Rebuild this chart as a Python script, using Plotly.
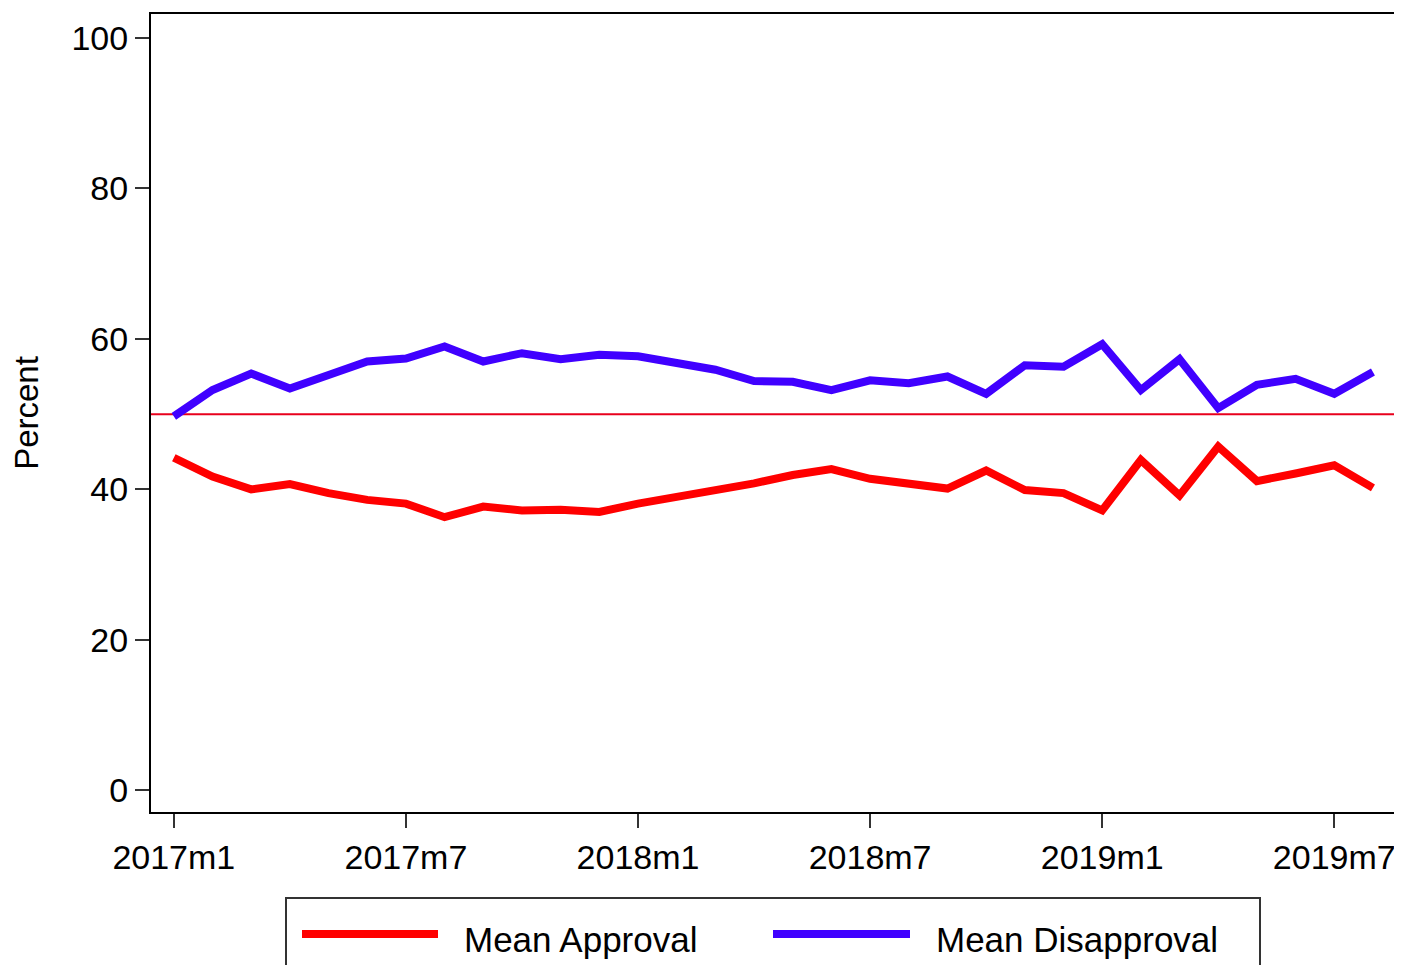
import plotly.graph_objects as go

months = [
    "2017m1", "2017m2", "2017m3", "2017m4", "2017m5", "2017m6", "2017m7", "2017m8",
    "2017m9", "2017m10", "2017m11", "2017m12", "2018m1", "2018m2", "2018m3", "2018m4",
    "2018m5", "2018m6", "2018m7", "2018m8", "2018m9", "2018m10", "2018m11", "2018m12",
    "2019m1", "2019m2", "2019m3", "2019m4", "2019m5", "2019m6", "2019m7", "2019m8",
]

mean_approval = [
    44.2, 41.7, 40.0, 40.7, 39.5, 38.6, 38.1, 36.3, 37.7, 37.2, 37.3, 37.0,
    38.1, 39.0, 39.7, 40.8, 41.9, 42.7, 41.4, 40.8, 40.1, 42.5, 39.9, 39.5,
    37.2, 43.9, 39.2, 45.7, 41.1, 42.1, 43.2, 40.2,
]

mean_disapproval = [
    49.7, 53.2, 55.4, 53.4, 55.2, 57.0, 57.4, 59.0, 57.0, 58.1, 57.3, 57.9,
    57.7, 56.7, 55.9, 54.4, 54.3, 53.2, 54.5, 54.1, 55.0, 52.7, 56.5, 56.3,
    59.3, 53.2, 57.3, 50.8, 53.9, 54.7, 52.7, 55.6,
]

x_tick_labels = ["2017m1", "2017m7", "2018m1", "2018m7", "2019m1", "2019m7"]
y_tick_values = [0, 20, 40, 60, 80, 100]
reference_level = 50

RED = "#FF0000"
BLUE = "#4000FF"
FONT = "Liberation Sans, Arial, Helvetica, sans-serif"

fig = go.Figure()
fig.add_trace(go.Scatter(x=months, y=mean_approval, mode="lines", name="Mean Approval",
                         line=dict(color=RED, width=8), showlegend=False))
fig.add_trace(go.Scatter(x=months, y=mean_disapproval, mode="lines", name="Mean Disapproval",
                         line=dict(color=BLUE, width=8), showlegend=False))

# reference line at 50
fig.add_shape(type="line", xref="paper", x0=0, x1=1, yref="y", y0=reference_level, y1=reference_level,
              line=dict(color="#E8001C", width=2), layer="below")

# custom legend (Stata-style), positions relative to plot area in screen px
W, H = 1244.0, 798.0
L, B = 151.0, 812.0
def px(xp):
    return (xp - L) / W
def py(yp):
    return (B - yp) / H

fig.add_shape(type="rect", xref="paper", yref="paper", x0=px(286), x1=px(1260), y0=py(990), y1=py(898),
              line=dict(color="#333333", width=2), fillcolor="white")
legend_items = [("Mean Approval", RED, 302, 438, 462), ("Mean Disapproval", BLUE, 773, 910, 934)]
for name, col, lx0, lx1, tx in legend_items:
    fig.add_shape(type="line", xref="paper", yref="paper", x0=px(lx0), x1=px(lx1), y0=py(934), y1=py(934),
                  line=dict(color=col, width=8))
    fig.add_annotation(xref="paper", yref="paper", x=px(tx), y=py(939), text=name, showarrow=False,
                       xanchor="left", yanchor="middle", font=dict(family=FONT, size=35, color="black"))

# page body has an 8px margin, so the figure is offset by (8, 8)
fig.update_layout(
    width=1394, height=957,
    margin=dict(l=143, r=7, t=6, b=153, autoexpand=False),
    plot_bgcolor="white", paper_bgcolor="white",
    font=dict(family=FONT, size=33, color="black"),
    showlegend=False,
)
fig.update_xaxes(
    type="category", range=[-0.59, 31.57],
    tickmode="array", tickvals=x_tick_labels, ticktext=x_tick_labels,
    ticks="outside", ticklen=14, tickwidth=2, tickcolor="#333333",
    showline=True, linecolor="black", linewidth=2, mirror=True,
    showgrid=False, zeroline=False, tickfont=dict(size=34),
)
fig.update_yaxes(
    range=[-2.9, 103.2], tickmode="array", tickvals=y_tick_values,
    ticks="outside", ticklen=14, tickwidth=2, tickcolor="#333333",
    showline=True, linecolor="black", linewidth=2, mirror=True,
    showgrid=False, zeroline=False, tickfont=dict(size=34),
    title=dict(text="Percent", font=dict(size=33), standoff=24),
)

fig.write_html("out.html")
